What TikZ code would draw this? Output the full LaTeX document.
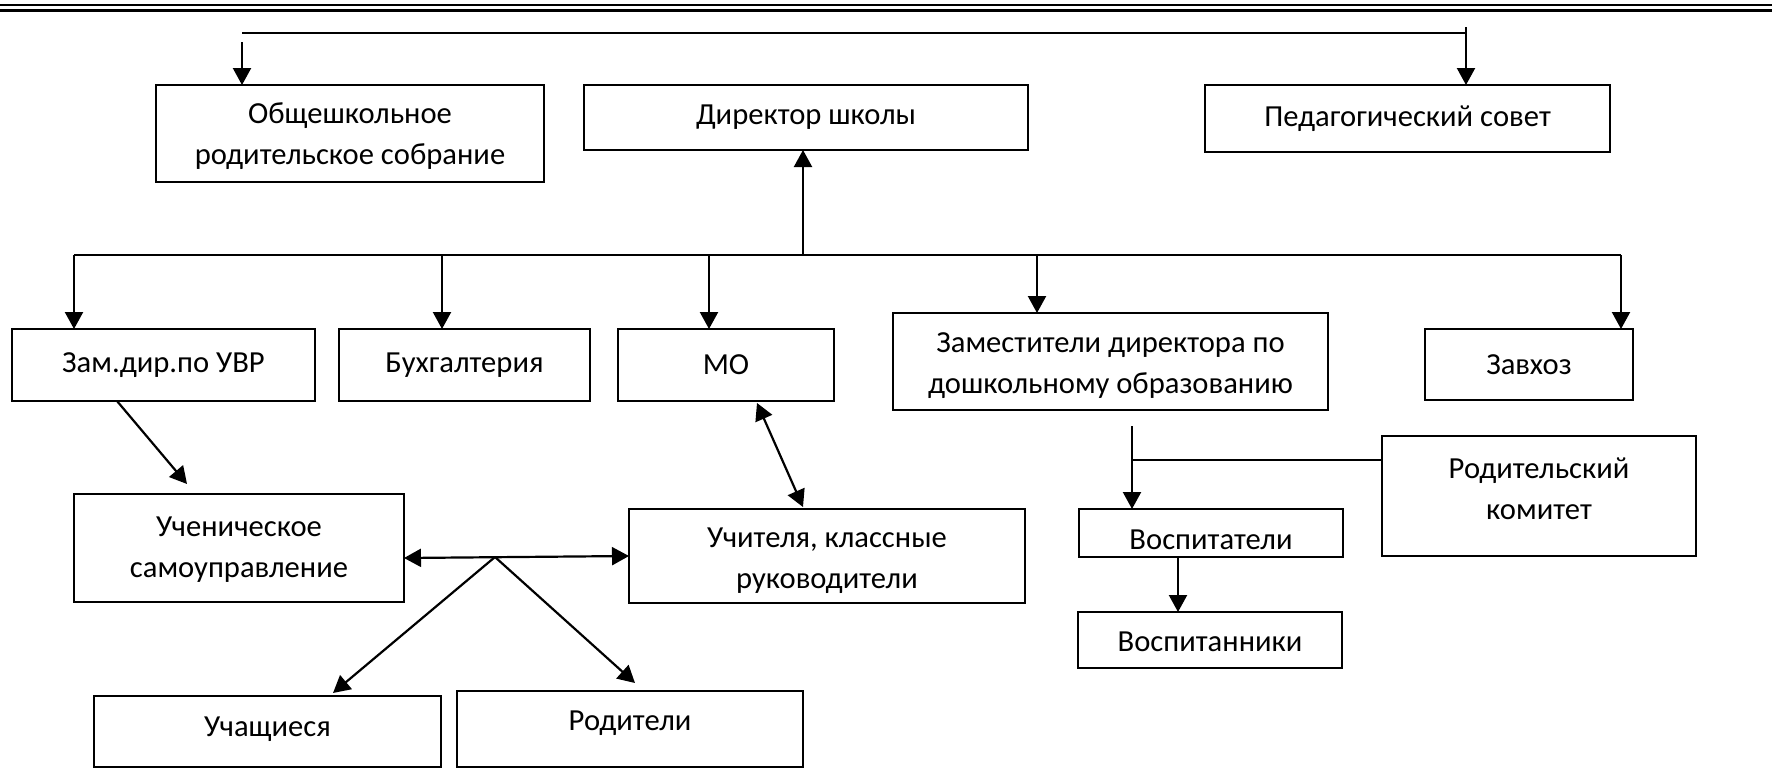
\documentclass[tikz,border=0pt]{standalone}
\usepackage{fontspec}
\setmainfont{Carlito}
\usetikzlibrary{arrows.meta}
\newcommand{\orgbox}[5]{% name, x1, y1, x2, y2
  \pgfmathsetmacro{\bxcx}{(#2+#4)/2}\pgfmathsetmacro{\bxcy}{(#3+#5)/2}%
  \pgfmathsetmacro{\bxw}{(#4-#2)/2}\pgfmathsetmacro{\bxh}{(#5-#3)/2}%
  \node[box, minimum width=\bxw pt, minimum height=\bxh pt] (#1) at (\bxcx,\bxcy) {};%
}
\begin{document}
\begin{tikzpicture}[x=0.5pt, y=-0.5pt,
  box/.style={draw, line width=1pt, rectangle, inner sep=0pt, outer sep=0pt},
  txt/.style={font=\fontsize{15.3}{20.5}\selectfont, align=center, inner sep=0pt},
  tip/.tip={Triangle[length=8.5pt,width=9pt]},
  arr/.style={-tip, line width=1.1pt},
  biarr/.style={tip-tip, line width=1.1pt},
  conn/.style={line width=0.8pt}]
\useasboundingbox (0,0) rectangle (1772,768);
% page border lines
\draw[line width=1.1pt] (0,5) -- (1772,5);
\draw[line width=1.5pt] (0,10.5) -- (1772,10.5);

% boxes
\orgbox{obs}{156}{85}{544}{182}
\orgbox{dir}{584}{85}{1028}{150}
\orgbox{ped}{1205}{85}{1610}{152}
\orgbox{zam}{12}{329}{315}{401}
\orgbox{buh}{339}{329}{590}{401}
\orgbox{mo}{618}{329}{834}{401}
\orgbox{zdo}{893}{313}{1328}{410}
\orgbox{zav}{1425}{329}{1633}{400}
\orgbox{uchs}{74}{494}{404}{602}
\orgbox{teach}{629}{509}{1025}{603}
\orgbox{uchas}{94}{696}{441}{767}
\orgbox{rodit}{457}{691}{803}{767}
\orgbox{rodk}{1382}{436}{1696}{556}
\orgbox{vosp}{1079}{509}{1343}{557}
\orgbox{vospn}{1078}{612}{1342}{668}

% texts
\node[txt, yshift=-1.5pt] (obs-t) at (obs) {Общешкольное\\родительское собрание};
\node[txt] (dir-t) at (dir) {Директор школы};
\node[txt] (ped-t) at (ped) {Педагогический совет};
\node[txt] (zam-t) at (zam) {Зам.дир.по УВР};
\node[txt] (buh-t) at (buh) {Бухгалтерия};
\node[txt] (mo-t) at (mo) {МО};
\node[txt, yshift=-2pt] (zdo-t) at (zdo) {Заместители директора по\\дошкольному образованию};
\node[txt] (zav-t) at (zav) {Завхоз};
\node[txt, yshift=-1pt] (uchs-t) at (uchs) {Ученическое\\самоуправление};
\node[txt, yshift=-2.5pt] (teach-t) at (teach) {Учителя, классные\\руководители};
\node[txt, yshift=1pt] (uchas-t) at (uchas) {Учащиеся};
\node[txt, yshift=3pt] (rodit-t) at (rodit) {Родители};
\node[txt, yshift=3.5pt] (rodk-t) at (rodk) {Родительский\\комитет};
\node[txt, yshift=-3.5pt] (vosp-t) at (vosp) {Воспитатели};
\node[txt, yshift=-1pt] (vospn-t) at (vospn) {Воспитанники};

% top connector
\coordinate (tl) at (242,33);
\coordinate (tr) at (1466,33);
\coordinate (la) at (242,42);
\coordinate (ra) at (1466,27);
\draw[conn] (tl) -- (tr);
\draw[arr] (la) -- (la |- obs.north);
\draw[arr] (ra) -- (ra |- ped.north);

% level 2 bus
\coordinate (bl) at (74,255);
\coordinate (br) at (1621,255);
\coordinate (bc) at (803,255);
\draw[conn, line width=1pt] (bl) -- (br);
\draw[arr] (bc) -- (bc |- dir.south);
\draw[arr] (bl) -- (bl |- zam.north);
\coordinate (b2) at (442,255);
\draw[arr] (b2) -- (b2 |- buh.north);
\coordinate (b3) at (709,255);
\draw[arr] (b3) -- (b3 |- mo.north);
\coordinate (b4) at (1037,255);
\draw[arr] (b4) -- (b4 |- zdo.north);
\draw[arr] (br) -- (br |- zav.north);

% left branch
\coordinate (zs) at (117,401);
\coordinate (ue) at (187,484);
\draw[arr] (zs) -- (ue);
\coordinate (ms) at (757,403);
\coordinate (tn) at (803,507);
\draw[biarr] (ms) -- (tn);
\coordinate (ul) at (404,558);
\coordinate (tw) at (629,556);
\draw[biarr] (ul) -- (tw);
\coordinate (ap) at (495,557);
\coordinate (ua) at (333,693);
\coordinate (ra2) at (635,683);
\draw[arr] (ap) -- (ua);
\draw[arr] (ap) -- (ra2);

% right branch
\coordinate (vt) at (1132,426);
\coordinate (vj) at (1132,460);
\draw[arr] (vt) -- (vt |- vosp.north);
\draw[conn] (vj) -- (vj -| rodk.west);
\coordinate (vv) at (1178,557);
\draw[arr] (vv) -- (vv |- vospn.north);
\end{tikzpicture}
\end{document}
